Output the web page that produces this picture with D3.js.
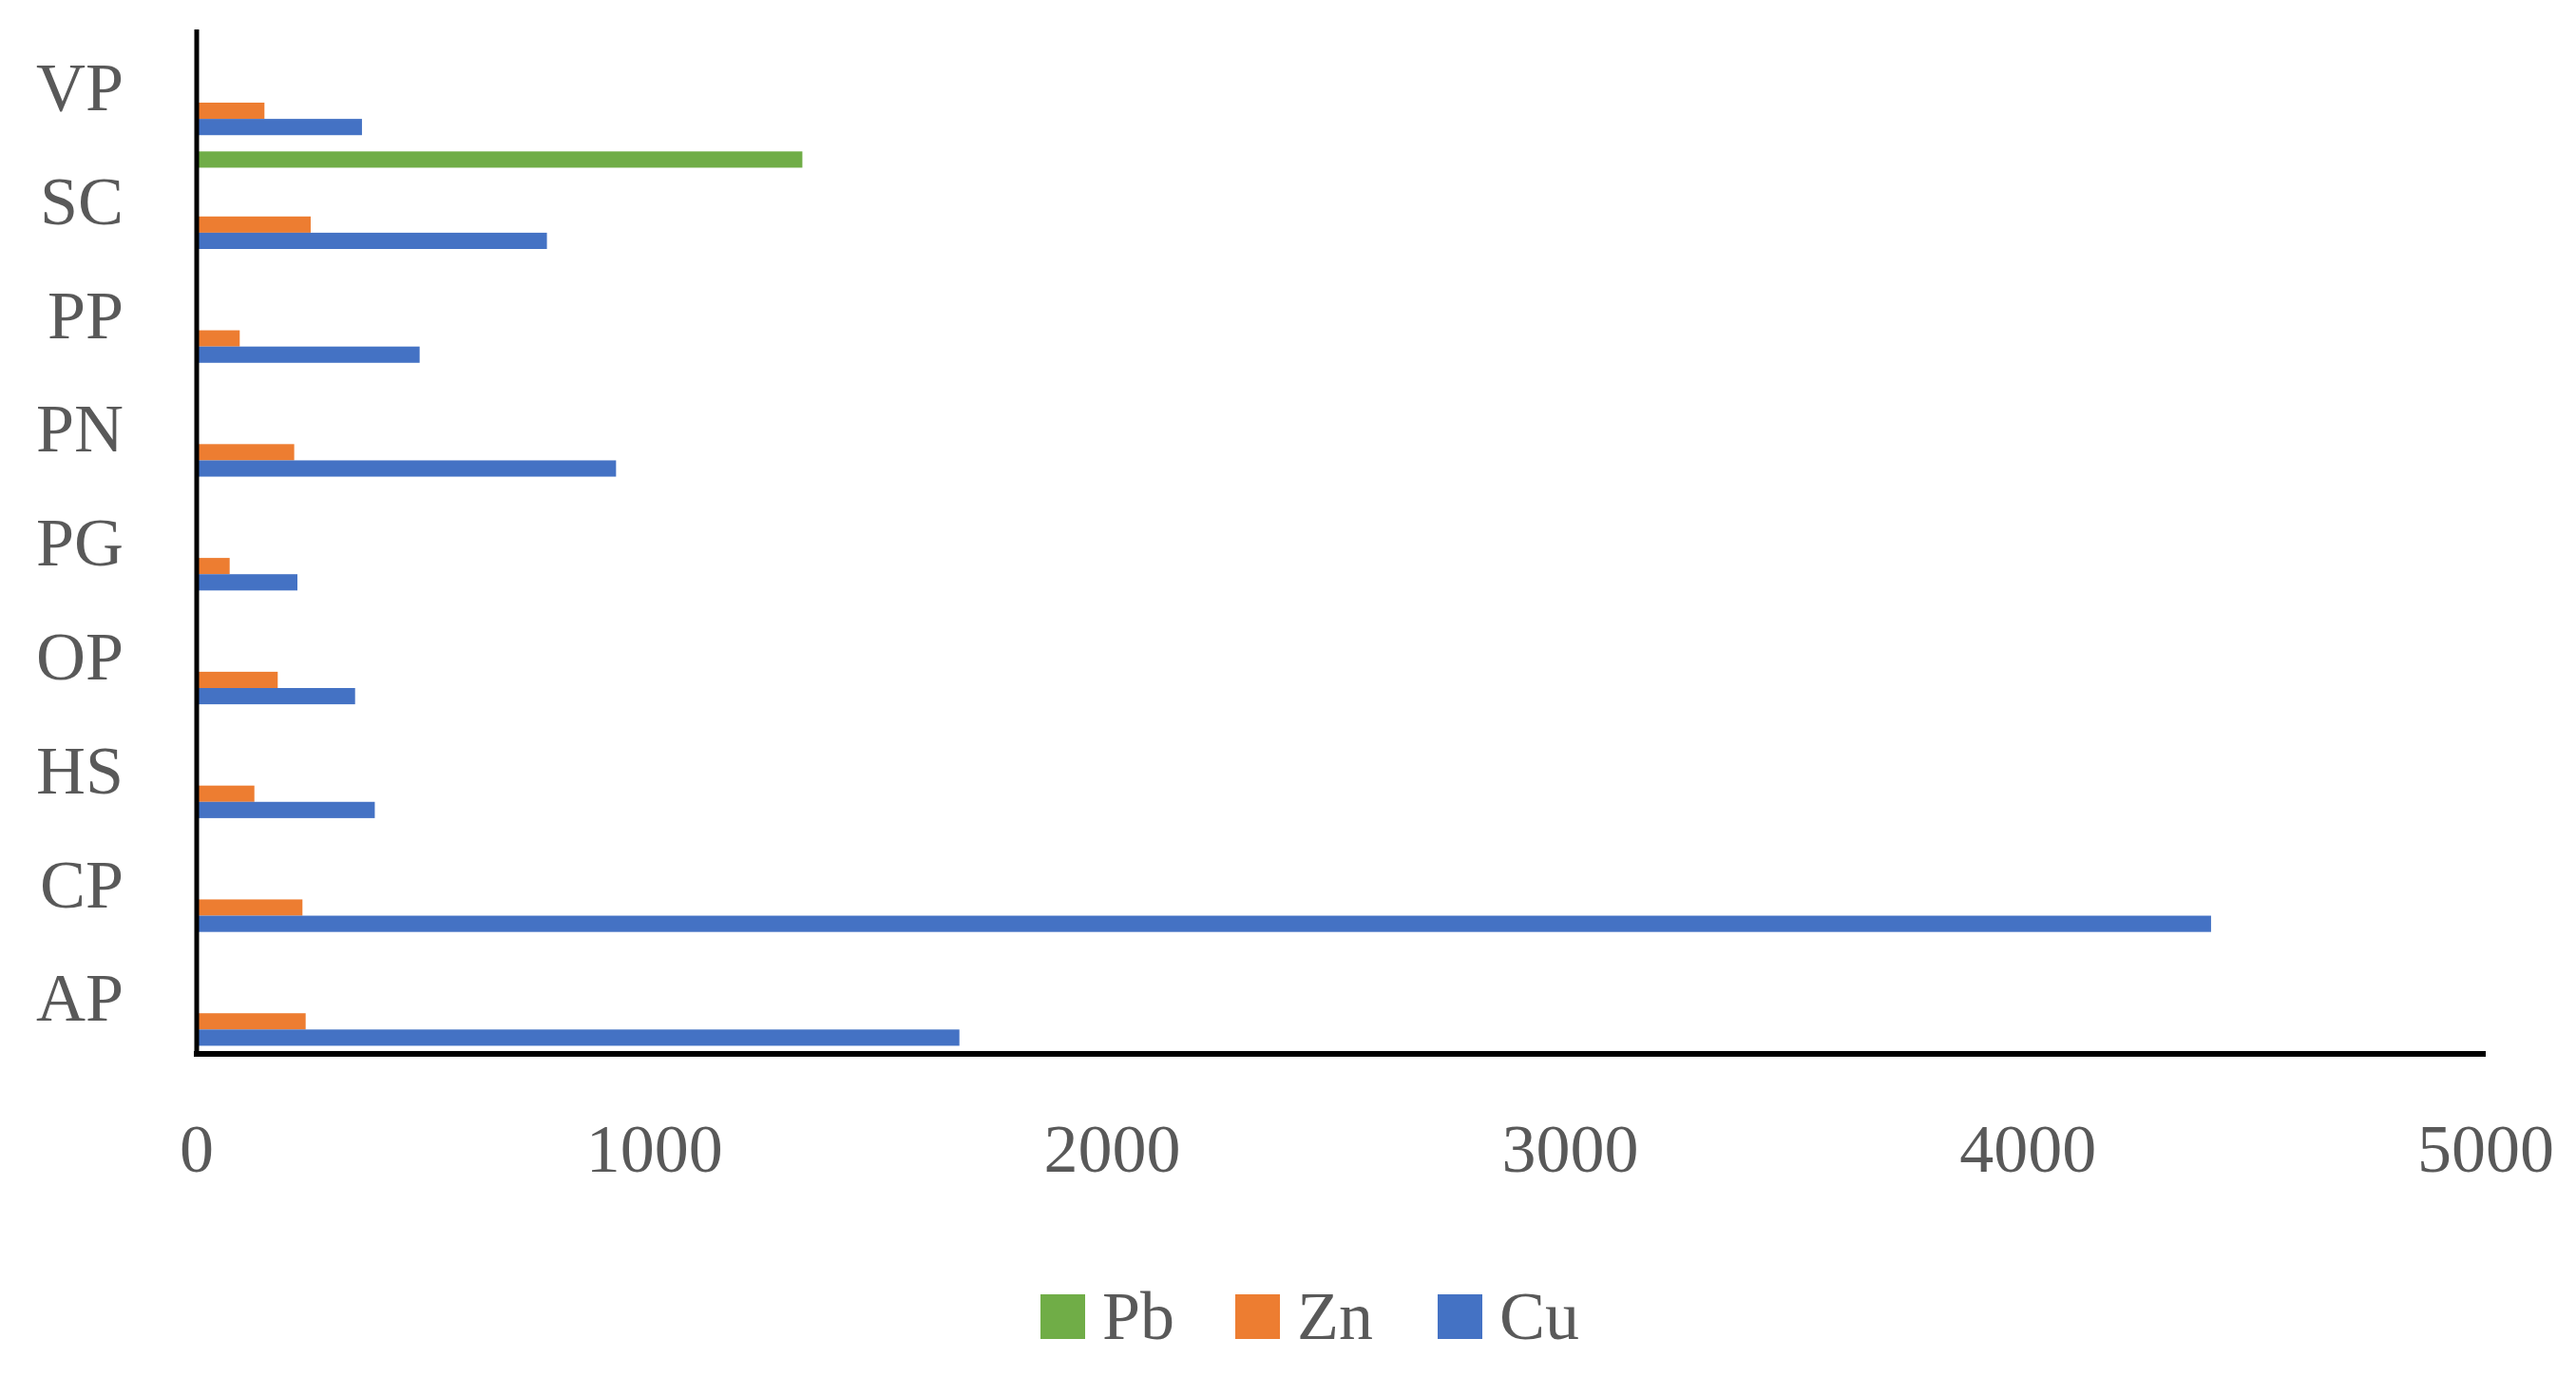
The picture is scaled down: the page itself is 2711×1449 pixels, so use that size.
<!DOCTYPE html>
<html>
<head>
<meta charset="utf-8">
<script src="https://cdn.jsdelivr.net/npm/d3@7"></script>
<style>
  body { margin: 0; background: #fff; }
  text { font-family: "Liberation Serif", "DejaVu Serif", serif; fill: #595959; }
</style>
</head>
<body>
<div id="chart"></div>
<script>
// Data
const categories = ["VP", "SC", "PP", "PN", "PG", "OP", "HS", "CP", "AP"];
const cuValues = [361, 765, 487, 916, 220, 346, 389, 4400, 1666];
const znValues = [148, 249, 94, 213, 72, 177, 126, 231, 238];
const pbValues = [0, 1323, 0, 0, 0, 0, 0, 0, 0];
const xTicks = [0, 1000, 2000, 3000, 4000, 5000];
const legendItems = ["Pb", "Zn", "Cu"];
const colors = { Pb: "#70ad47", Zn: "#ed7d31", Cu: "#4472c4" };
// slots inside each band, top to bottom (Excel leaves empty slots between Pb and Zn)
const slots = ["Pb", "e1", "e2", "e3", "Zn", "Cu"];

const width = 2711, height = 1449;
const mLeft = 207, mRight = 2616, mTop = 31, mBottom = 1109;

const svg = d3.select("#chart").append("svg")
    .attr("width", width)
    .attr("height", height);

const x = d3.scaleLinear().domain([0, 5000]).range([mLeft, mRight]);
const y = d3.scaleBand().domain(categories).range([mTop, mBottom]);
const ySub = d3.scaleBand().domain(slots).range([0, y.bandwidth()]).paddingOuter(0.5);

const rows = [];
categories.forEach((c, i) => {
    rows.push({ cat: c, key: "Pb", v: pbValues[i] });
    rows.push({ cat: c, key: "Zn", v: znValues[i] });
    rows.push({ cat: c, key: "Cu", v: cuValues[i] });
});

svg.selectAll(".bar")
    .data(rows.filter(d => d.v > 0))
    .enter()
    .append("rect")
    .attr("class", "bar")
    .attr("x", x(0))
    .attr("y", d => y(d.cat) + ySub(d.key))
    .attr("width", d => x(d.v) - x(0))
    .attr("height", ySub.bandwidth())
    .attr("fill", d => colors[d.key]);

// Axes lines
svg.append("line")
    .attr("x1", mLeft).attr("x2", mLeft)
    .attr("y1", mTop).attr("y2", mBottom)
    .attr("stroke", "#000").attr("stroke-width", 5);
svg.append("line")
    .attr("x1", mLeft - 3).attr("x2", mRight)
    .attr("y1", mBottom).attr("y2", mBottom)
    .attr("stroke", "#000").attr("stroke-width", 6);

// Category labels
svg.selectAll(".ylab")
    .data(categories)
    .enter()
    .append("text")
    .attr("class", "ylab")
    .attr("x", 130)
    .attr("y", d => y(d) + y.bandwidth() / 2)
    .attr("dy", "0.35em")
    .attr("text-anchor", "end")
    .attr("font-size", 72)
    .text(d => d);

// X tick labels
svg.selectAll(".xlab")
    .data(xTicks)
    .enter()
    .append("text")
    .attr("class", "xlab")
    .attr("x", d => x(d))
    .attr("y", 1233)
    .attr("text-anchor", "middle")
    .attr("font-size", 72)
    .text(d => d);

// Legend
const legendX = [1095, 1300, 1513];
const legend = svg.selectAll(".legend")
    .data(legendItems)
    .enter()
    .append("g")
    .attr("class", "legend")
    .attr("transform", (d, i) => `translate(${legendX[i]}, 1362)`);
legend.append("rect")
    .attr("width", 47).attr("height", 47)
    .attr("fill", d => colors[d]);
legend.append("text")
    .attr("x", 65)
    .attr("y", 47)
    .attr("font-size", 72)
    .text(d => d);
</script>
</body>
</html>
